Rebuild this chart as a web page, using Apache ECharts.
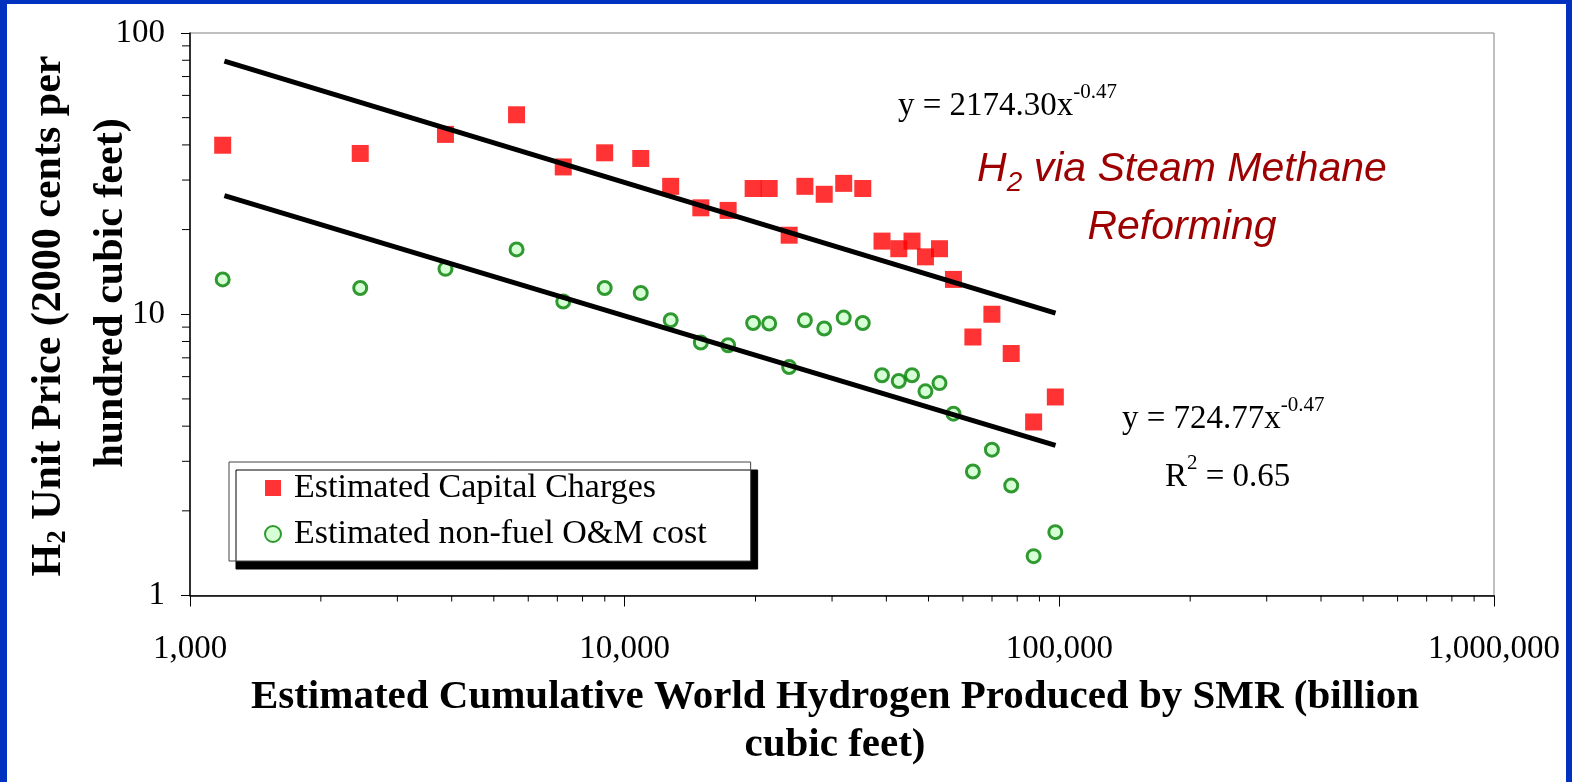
<!DOCTYPE html>
<html><head><meta charset="utf-8">
<script src="https://cdn.jsdelivr.net/npm/echarts@6/dist/echarts.min.js"></script>
<style>html,body{margin:0;padding:0;background:#fff;}#c{width:1572px;height:782px;}</style>
</head><body><div id="c"></div>
<script>
// ---- data ----
const xValues = [1189, 2464, 3870, 5640, 7223, 8995, 10889, 12760, 14970, 17300, 19750, 21500, 23900, 25980,
  28780, 31910, 35300, 39090, 42720, 45820, 49200, 53000, 57070, 63260, 69960, 77500, 87270, 97900];
const capitalCharges = [39.9, 37.3, 43.6, 51.2, 33.4, 37.5, 35.8, 28.5, 23.9, 23.4, 28.0, 28.0, 19.1, 28.5,
  26.7, 29.2, 28.0, 18.2, 17.1, 18.2, 16.0, 17.1, 13.3, 8.3, 10.0, 7.25, 4.14, 5.08];
const omCost = [13.3, 12.4, 14.5, 17.0, 11.1, 12.4, 11.9, 9.52, 7.93, 7.76, 9.31, 9.27, 6.49, 9.52,
  8.9, 9.73, 9.31, 6.07, 5.79, 6.07, 5.32, 5.69, 4.43, 2.76, 3.30, 2.46, 1.38, 1.68];
const capitalTrendX = [1200, 98000];
const capitalTrendY = [79.4, 10.1];
const omTrendX = [1200, 98000];
const omTrendY = [26.4, 3.42];
const xMin = 1000, xMax = 1000000, yMin = 1, yMax = 100;
const xMinorTicks = [2000, 3000, 4000, 5000, 6000, 7000, 8000, 9000,
  20000, 30000, 40000, 50000, 60000, 70000, 80000, 90000,
  200000, 300000, 400000, 500000, 600000, 700000, 800000, 900000];
const yMinorTicks = [2, 3, 4, 5, 6, 7, 8, 9, 20, 30, 40, 50, 60, 70, 80, 90];
const seriesNames = ['Estimated Capital Charges', 'Estimated non-fuel O&M cost'];
const eq1 = ['y = 2174.30x', '-0.47'];
const eq2 = ['y = 724.77x', '-0.47'];
const r2 = ['R', '2', ' = 0.65'];
const xTitle = ['Estimated Cumulative World Hydrogen Produced by SMR (billion', 'cubic feet)'];
const yTitle = ['H', '2', ' Unit Price (2000 cents per', 'hundred cubic feet)'];
const annot = ['H', '2', ' via Steam Methane', 'Reforming'];

const SERIF = 'Liberation Serif';
const SANS = 'Liberation Sans';
const BLUE = '#0031bf';

function fmtComma(v) {
  return String(Math.round(v)).replace(/\B(?=(\d{3})+(?!\d))/g, ',');
}

const chart = echarts.init(document.getElementById('c'), null, {renderer: 'canvas'});

function tickSeries(values, isX) {
  return {
    type: 'custom', silent: true, z: 5, clip: false,
    data: values.map(v => isX ? [v, yMin] : [xMin, v]),
    renderItem: function (params, api) {
      const p = api.coord([api.value(0), api.value(1)]);
      const shape = isX ? {x1: p[0], y1: p[1], x2: p[0], y2: p[1] + 6}
                        : {x1: p[0], y1: p[1], x2: p[0] - 8, y2: p[1]};
      return {type: 'line', shape: shape, style: {stroke: '#000', lineWidth: 1}};
    }
  };
}

const option = {
  animation: false,
  backgroundColor: '#fff',
  grid: {left: 190, top: 33, width: 1304, height: 562.5, show: true, borderColor: '#808080', borderWidth: 1, backgroundColor: 'transparent'},
  xAxis: {
    type: 'log', logBase: 10, min: xMin, max: xMax,
    axisLine: {show: true, lineStyle: {color: '#000', width: 1.5}},
    axisTick: {show: true, length: 11, lineStyle: {color: '#000', width: 1}},
    splitLine: {show: false},
    axisLabel: {fontFamily: SERIF, fontSize: 33, color: '#000', margin: 37, formatter: fmtComma}
  },
  yAxis: {
    type: 'log', logBase: 10, min: yMin, max: yMax,
    axisLine: {show: true, lineStyle: {color: '#000', width: 1.5}},
    axisTick: {show: true, length: 9, lineStyle: {color: '#000', width: 1}},
    splitLine: {show: false},
    axisLabel: {fontFamily: SERIF, fontSize: 33, color: '#000', margin: 25, padding: [6, 0, 0, 0], formatter: v => String(Math.round(v))}
  },
  legend: {
    data: seriesNames.map(n => ({name: n})),
    orient: 'vertical', left: 229, top: 462,
    backgroundColor: '#fff', borderColor: '#444', borderWidth: 1,
    padding: [9, 44, 10, 35], itemGap: 12, itemWidth: 16, itemHeight: 16,
    textStyle: {fontFamily: SERIF, fontSize: 34, color: '#000', padding: [0, 0, 0, 8]},
    shadowColor: '#000', shadowBlur: 0, shadowOffsetX: 7, shadowOffsetY: 8,
    selectedMode: false
  },
  series: [
    {
      name: seriesNames[0], type: 'scatter', symbol: 'rect', symbolSize: 17, z: 3,
      itemStyle: {color: '#ff0000'},
      data: xValues.map((x, i) => [x, capitalCharges[i]])
    },
    {
      name: seriesNames[1], type: 'scatter', symbol: 'circle', symbolSize: 13, z: 3,
      itemStyle: {color: '#ccffcc', borderColor: '#008000', borderWidth: 3},
      data: xValues.map((x, i) => [x, omCost[i]])
    },
    {
      type: 'line', silent: true, z: 4, showSymbol: false, symbol: 'none',
      lineStyle: {color: '#000', width: 5},
      data: capitalTrendX.map((x, i) => [x, capitalTrendY[i]])
    },
    {
      type: 'line', silent: true, z: 4, showSymbol: false, symbol: 'none',
      lineStyle: {color: '#000', width: 5},
      data: omTrendX.map((x, i) => [x, omTrendY[i]])
    },
    tickSeries(xMinorTicks, true),
    tickSeries(yMinorTicks, false)
  ],
  graphic: [
    {type: 'rect', silent: true, z: 100, shape: {x: 0, y: 0, width: 7, height: 782}, style: {fill: BLUE}},
    {type: 'rect', silent: true, z: 100, shape: {x: 0, y: 0, width: 1572, height: 4}, style: {fill: BLUE}},
    {type: 'rect', silent: true, z: 100, shape: {x: 1566, y: 0, width: 6, height: 782}, style: {fill: BLUE}},
    {
      type: 'text', x: 898, y: 106, z: 50,
      style: {
        text: '{m|' + eq1[0] + '}{s|' + eq1[1] + '}', align: 'left', verticalAlign: 'middle',
        rich: {
          m: {fontFamily: SERIF, fontSize: 33, lineHeight: 48, fill: '#000'},
          s: {fontFamily: SERIF, fontSize: 21, lineHeight: 21, verticalAlign: 'top', fill: '#000'}
        }
      }
    },
    {
      type: 'text', x: 1122, y: 419, z: 50,
      style: {
        text: '{m|' + eq2[0] + '}{s|' + eq2[1] + '}', align: 'left', verticalAlign: 'middle',
        rich: {
          m: {fontFamily: SERIF, fontSize: 33, lineHeight: 48, fill: '#000'},
          s: {fontFamily: SERIF, fontSize: 21, lineHeight: 21, verticalAlign: 'top', fill: '#000'}
        }
      }
    },
    {
      type: 'text', x: 1165, y: 477, z: 50,
      style: {
        text: '{m|' + r2[0] + '}{s|' + r2[1] + '}{m|' + r2[2] + '}', align: 'left', verticalAlign: 'middle',
        rich: {
          m: {fontFamily: SERIF, fontSize: 33, lineHeight: 48, fill: '#000'},
          s: {fontFamily: SERIF, fontSize: 21, lineHeight: 21, verticalAlign: 'top', fill: '#000'}
        }
      }
    },
    {
      type: 'text', x: 1182, y: 170, z: 50,
      style: {
        text: '{t|' + annot[0] + '}{sub|' + annot[1] + '}{t|' + annot[2] + '}', align: 'center', verticalAlign: 'middle',
        rich: {
          t: {fontFamily: SANS, fontStyle: 'italic', fontSize: 41, lineHeight: 54, fill: '#9c0000'},
          sub: {fontFamily: SANS, fontStyle: 'italic', fontSize: 28, lineHeight: 28, verticalAlign: 'bottom', fill: '#9c0000'}
        }
      }
    },
    {
      type: 'text', x: 1182, y: 228, z: 50,
      style: {text: annot[3], align: 'center', verticalAlign: 'middle', fontFamily: SANS, fontStyle: 'italic', fontSize: 41, fill: '#9c0000'}
    },
    {
      type: 'text', x: 835, y: 697, z: 50,
      style: {text: xTitle[0], align: 'center', verticalAlign: 'middle', fontFamily: SERIF, fontWeight: 'bold', fontSize: 41, fill: '#000'}
    },
    {
      type: 'text', x: 835, y: 745, z: 50,
      style: {text: xTitle[1], align: 'center', verticalAlign: 'middle', fontFamily: SERIF, fontWeight: 'bold', fontSize: 41, fill: '#000'}
    },
    {
      type: 'text', x: 49, y: 316, z: 50, rotation: Math.PI / 2,
      style: {
        text: '{b|' + yTitle[0] + '}{bs|' + yTitle[1] + '}{b|' + yTitle[2] + '}', align: 'center', verticalAlign: 'middle',
        rich: {
          b: {fontFamily: SERIF, fontWeight: 'bold', fontSize: 42, lineHeight: 46, fill: '#000'},
          bs: {fontFamily: SERIF, fontWeight: 'bold', fontSize: 27, lineHeight: 27, verticalAlign: 'bottom', fill: '#000'}
        }
      }
    },
    {
      type: 'text', x: 111, y: 293, z: 50, rotation: Math.PI / 2,
      style: {text: yTitle[3], align: 'center', verticalAlign: 'middle', fontFamily: SERIF, fontWeight: 'bold', fontSize: 42, fill: '#000'}
    }
  ]
};
chart.setOption(option);
</script>
</body></html>
